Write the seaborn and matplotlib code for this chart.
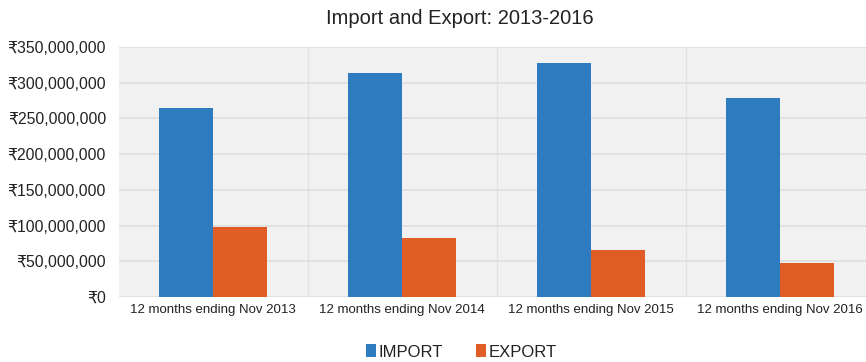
import matplotlib
matplotlib.use("Agg")
import matplotlib.pyplot as plt
from matplotlib.ticker import FuncFormatter, FixedLocator
from matplotlib.patches import Patch
import seaborn as sns
import pandas as pd

# Trade totals for the 12 months ending November of each year (rupees)
periods = ["12 months ending Nov 2013", "12 months ending Nov 2014",
           "12 months ending Nov 2015", "12 months ending Nov 2016"]
imports = [265_000_000, 314_000_000, 327_000_000, 278_000_000]
exports = [98_000_000, 83_000_000, 66_000_000, 48_000_000]
series = ["IMPORT", "EXPORT"]
colors = ["#2F7BBF", "#E05D26"]
y_ticks = [0, 50_000_000, 100_000_000, 150_000_000, 200_000_000,
           250_000_000, 300_000_000, 350_000_000]

df = pd.DataFrame({
    "period": periods * 2,
    "value": imports + exports,
    "series": [series[0]] * len(periods) + [series[1]] * len(periods),
})

sns.set_theme(style="white")
plt.rcParams["font.family"] = ["Liberation Sans", "DejaVu Sans"]

W, H = 866, 362
fig = plt.figure(figsize=(W / 100, H / 100), dpi=100)
left, right, top, bottom = 118.5, 866, 47, 297
ax = fig.add_axes([left / W, 1 - bottom / H, (right - left) / W, (bottom - top) / H])

sns.barplot(data=df, x="period", y="value", hue="series", hue_order=series,
            palette=colors, saturation=1, width=0.57, ax=ax, legend=False,
            edgecolor="none")

ax.set_facecolor("#F1F1F1")
ax.set_xlim(-0.5, -0.5 + (right - left) / 189)
ax.set_ylim(0, 350_000_000)
ax.yaxis.set_major_locator(FixedLocator(y_ticks))
ax.yaxis.set_major_formatter(FuncFormatter(lambda v, p: f"\u20b9{v:,.0f}"))
ax.grid(axis="y", color="#DEDEDE", linewidth=1.2)
for b in [0.5, 1.5, 2.5]:
    ax.axvline(b, color="#E2E2E2", linewidth=1.0, zorder=0)
ax.set_axisbelow(True)
for s in ax.spines.values():
    s.set_visible(False)
ax.set_xlabel("")
ax.set_ylabel("")
ax.tick_params(axis="y", length=0, pad=9, labelsize=11.3, labelcolor="#222222")
ax.tick_params(axis="x", length=0, pad=5, labelsize=9.5, labelcolor="#222222")

fig.text(460 / W, 1 - 18 / H, "Import and Export: 2013-2016", ha="center",
         va="center", fontsize=14.5, color="#222222")

handles = [Patch(facecolor=c, edgecolor="none") for c in colors]
fig.legend(handles, series, loc="center", bbox_to_anchor=(461 / W, 1 - 352 / H),
           ncol=2, frameon=False, fontsize=12, handlelength=0.6,
           handleheight=0.8, handletextpad=0.15, columnspacing=2.0,
           labelcolor="#222222")

fig.savefig("out.png", dpi=100)
